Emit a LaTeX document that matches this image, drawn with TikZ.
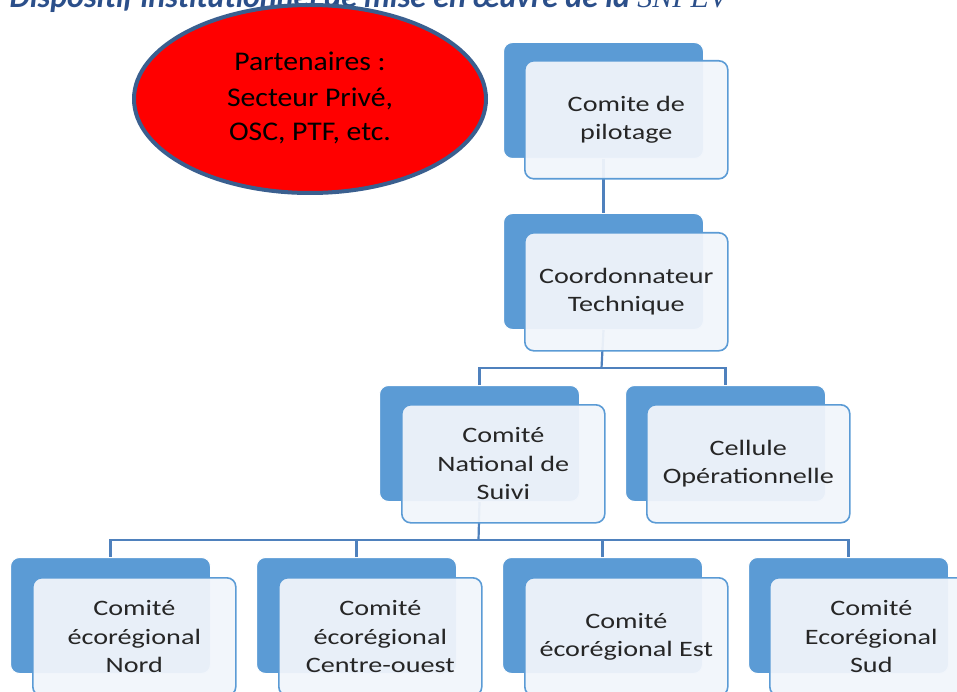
\documentclass[tikz,border=0pt]{standalone}
\usepackage{fontspec}
\setmainfont{Carlito}
\newfontfamily\serifit{Liberation Serif}
\newfontfamily\widefont[FakeStretch=1.28]{Carlito}
\newfontfamily\ellfont[FakeStretch=1.1]{Carlito}
\usetikzlibrary{shapes.geometric}
\definecolor{backblue}{HTML}{5B9BD5}
\definecolor{frontfill}{HTML}{F1F5FB}
\definecolor{connblue}{HTML}{4F81BD}
\definecolor{ellborder}{HTML}{3A5F8F}
\definecolor{titleblue}{HTML}{2B4F8A}
\tikzset{
  backbox/.style={rectangle, rounded corners=9pt, fill=backblue, draw=white, line width=1pt,
    minimum width=200pt, minimum height=116pt, anchor=north west, inner sep=0pt},
  frontbox/.style={rectangle, rounded corners=9pt, fill=frontfill, fill opacity=0.94, text opacity=1,
    draw=backblue, line width=1.6pt, minimum width=203pt, minimum height=118pt,
    anchor=north west, inner sep=0pt, align=center, text=black!85,
    font=\widefont\fontsize{22}{28.5}\selectfont},
  conn/.style={draw=connblue, line width=2.2pt},
  partner/.style={ellipse, fill=red, draw=ellborder, line width=4pt,
    minimum width=352pt, minimum height=188pt, inner sep=0pt, align=center,
    font=\ellfont\fontsize{27}{34}\selectfont}
}
\begin{document}
\begin{tikzpicture}[x=1pt,y=-1pt]
\useasboundingbox (0,0) rectangle (957,692);
\begin{scope}
\clip (0,0) rectangle (957,692);
% title (cut off at the top)
\node[anchor=base west, inner sep=0pt, text=titleblue,
  font=\fontsize{32}{36}\selectfont\bfseries\itshape] (title) at (-9,8)
  {: Dispositif institutionnel de mise en \oe uvre de la {\serifit\mdseries\itshape\fontsize{30}{34}\selectfont SNPEV}};

% back boxes
\node[backbox] (pil-b)  at (503,42) {};
\node[backbox] (coo-b)  at (503,213) {};
\node[backbox] (cns-b)  at (379,385) {};
\node[backbox] (cel-b)  at (625,385) {};
\node[backbox] (nord-b) at (10,557) {};
\node[backbox] (co-b)   at (256,557) {};
\node[backbox] (est-b)  at (502,557) {};
\node[backbox] (sud-b)  at (748,557) {};

% connectors
\coordinate (j1) at (601.5,368);
\coordinate (j2) at (478.5,540);
\draw[conn] (pil-b.south) -- (coo-b.north);
\draw[conn] (coo-b.south) -- (j1);
\draw[conn] (cns-b.north) |- (j1) -| (cel-b.north);
\draw[conn] (cns-b.south) -- (j2);
\draw[conn] (nord-b.north) |- (j2) -| (sud-b.north);
\draw[conn] (co-b.north) |- (j2);
\draw[conn] (est-b.north) |- (j2);

% front boxes
\node[frontbox] (pil)  at (524,60)  {Comite de\\pilotage};
\node[frontbox] (coo)  at (524,232) {Coordonnateur\\Technique};
\node[frontbox] (cns)  at (401,404) {Comité\\National de\\Suivi};
\node[frontbox] (cel)  at (646,404) {Cellule\\Opérationnelle};
\node[frontbox] (nord) at (32,577)  {Comité\\écorégional\\Nord};
\node[frontbox] (co)   at (278,577) {Comité\\écorégional\\Centre-ouest};
\node[frontbox] (est)  at (524,577) {Comité\\écorégional Est};
\node[frontbox] (sud)  at (769,577) {Comité\\Ecorégional\\Sud};

% partners ellipse
\node[partner] (part) at (310,99) {Partenaires :\\[2pt]Secteur Privé,\\OSC, PTF, etc.\\[-28pt]};
\end{scope}
\end{tikzpicture}
\end{document}
